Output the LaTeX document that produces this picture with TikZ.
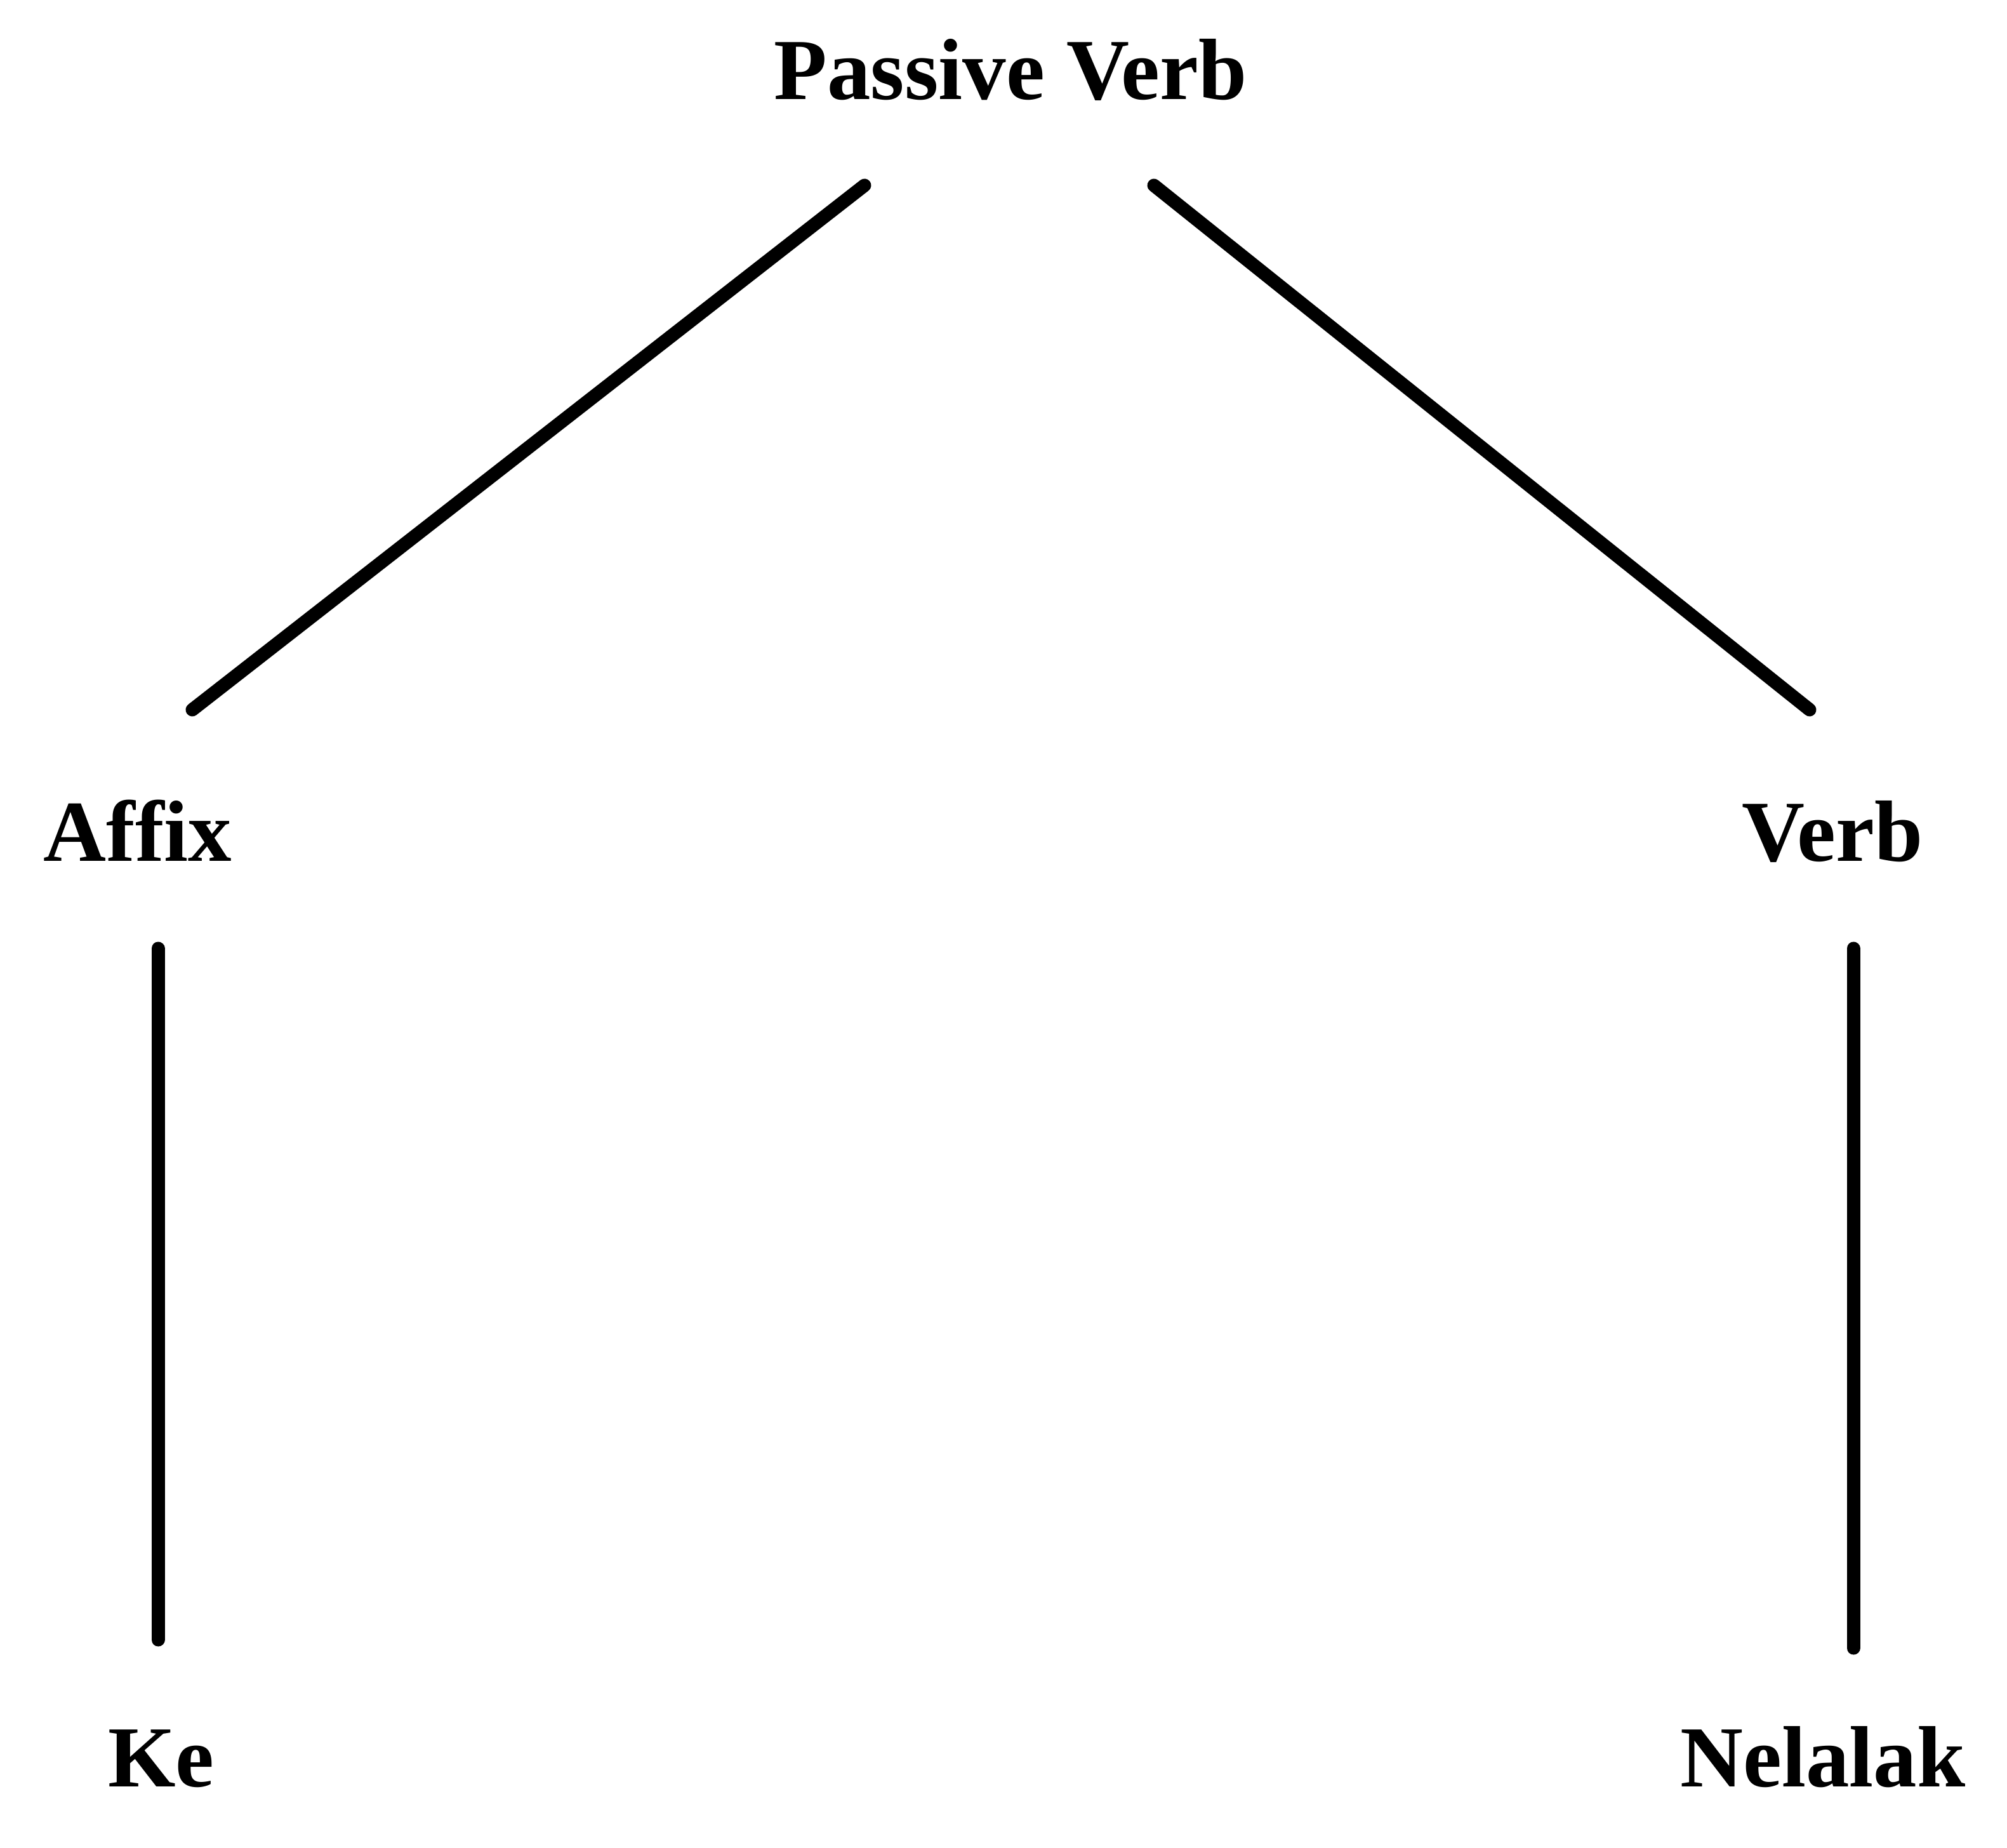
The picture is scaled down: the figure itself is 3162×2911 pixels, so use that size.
\documentclass[tikz,border=0pt]{standalone}
\usepackage{fontspec}
\setmainfont{Liberation Serif}
\begin{document}
\begin{tikzpicture}[x=0.1pt,y=-0.1pt,
  lbl/.style={inner sep=0pt,anchor=base,font=\bfseries\fontsize{13.7}{16}\selectfont},
  edge/.style={line width=2.1pt,line cap=round}]
\useasboundingbox (0,0) rectangle (3162,2911);
\node[lbl] (pv) at (1592,156) {Passive Verb};
\node[lbl] (affix) at (217,1356) {Affix};
\node[lbl] (verb) at (2887,1356) {Verb};
\node[lbl] (ke) at (254,2814) {Ke};
\node[lbl] (nel) at (2872,2814) {Nelalak};
\coordinate (pvL) at (1362,292);
\coordinate (pvR) at (1818,292);
\coordinate (afT) at (303,1118);
\coordinate (veT) at (2851,1118);
\coordinate (afB) at (249,1494);
\coordinate (keT) at (249,2583);
\coordinate (veB) at (2920,1494);
\coordinate (neT) at (2920,2596);
\draw[edge] (pvL) -- (afT);
\draw[edge] (pvR) -- (veT);
\draw[edge] (afB) -- (keT);
\draw[edge] (veB) -- (neT);
\end{tikzpicture}
\end{document}
